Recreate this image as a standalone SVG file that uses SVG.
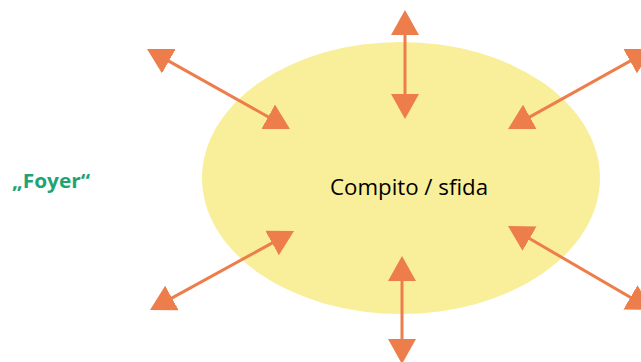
<svg xmlns="http://www.w3.org/2000/svg" width="641" height="362" viewBox="0 0 641 362">
  <style>
    .conn { stroke: #ED7D4A; stroke-width: 3; fill: none; marker-start: url(#ah); marker-end: url(#ah); }
    .lbl { font-family: "Open Sans", "Liberation Sans", sans-serif; }
  </style>
  <defs>
    <marker id="ah" viewBox="0 0 25 28" refX="20" refY="14" markerWidth="25" markerHeight="28" markerUnits="userSpaceOnUse" orient="auto-start-reverse">
      <path d="M0,0 L25,14 L0,28 Z" fill="#ED7D4A"/>
    </marker>
  </defs>
  <rect width="641" height="362" fill="#FFFFFF"/>
  <g id="task">
    <ellipse cx="401" cy="178" rx="199" ry="136" fill="#F9EF9A"/>
    <text class="lbl" x="330" y="195" font-size="21.5" textLength="158" lengthAdjust="spacingAndGlyphs" fill="#000000">Compito / sfida</text>
  </g>
  <g id="foyer">
    <text class="lbl" x="12" y="188" font-size="19" font-weight="bold" textLength="78" lengthAdjust="spacingAndGlyphs" fill="#1FA374">„Foyer“</text>
  </g>
  <g id="connectors">
    <line class="conn" x1="405" y1="15" x2="405" y2="114"/>
    <line class="conn" x1="402" y1="261" x2="402" y2="359"/>
    <line class="conn" x1="151.4" y1="51.4" x2="285.6" y2="126.6"/>
    <line class="conn" x1="647.6" y1="51.4" x2="512.4" y2="126.6"/>
    <line class="conn" x1="154.4" y1="307.6" x2="289.6" y2="233.4"/>
    <line class="conn" x1="512.3" y1="228.5" x2="647.7" y2="307.5"/>
  </g>
</svg>
